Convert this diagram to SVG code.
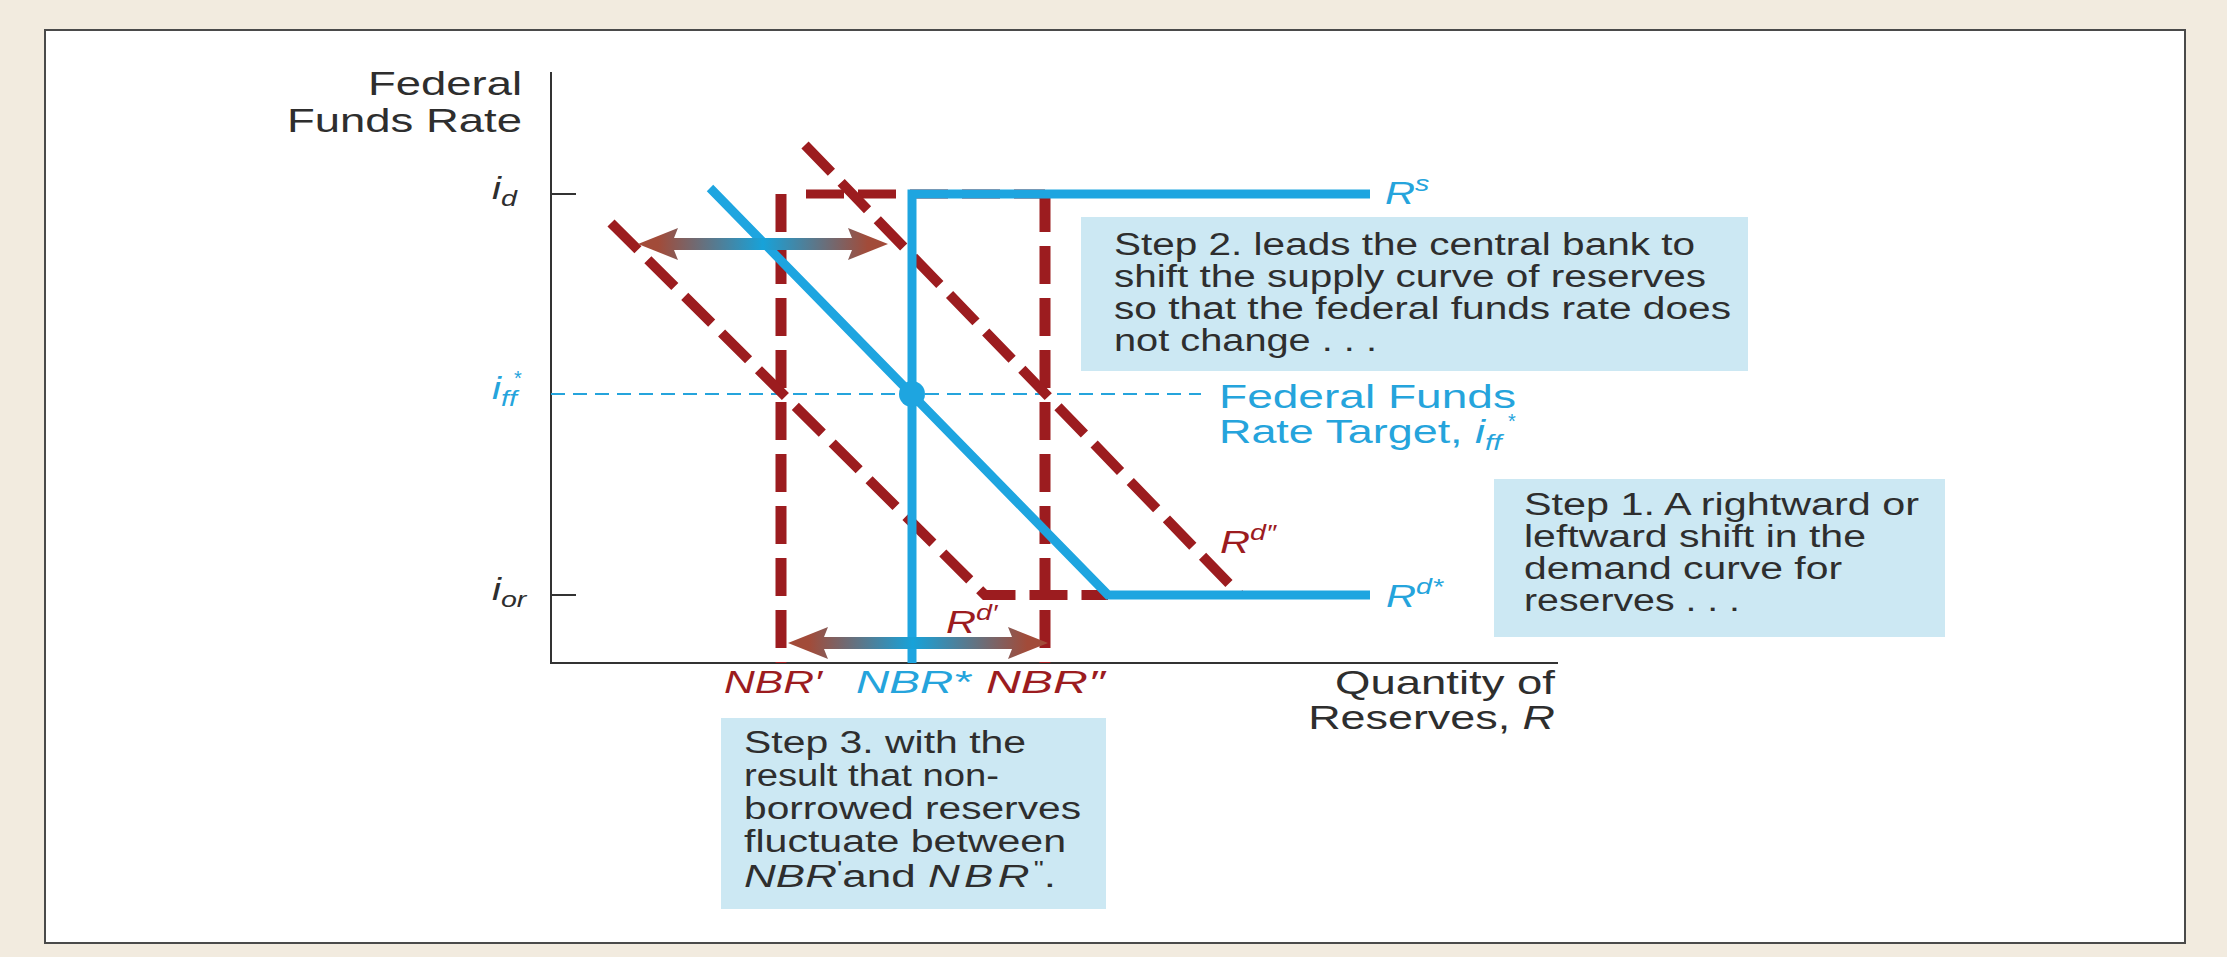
<svg xmlns="http://www.w3.org/2000/svg" width="2227" height="957" viewBox="0 0 2227 957">
<style>
.t{font-family:"Liberation Sans",Arial,sans-serif;fill:#2e2e2e}
.bt{font-family:"Liberation Sans",Arial,sans-serif;fill:#2e2e2e;font-size:31px}
.it{font-style:italic}
.red{fill:#9c1c1f}
.blu{fill:#25a4dc}
.rd{stroke:#9c1c1f;fill:none;stroke-dasharray:38 14}
.bl{stroke:#1ea5e0;fill:none}
.box{fill:#cce8f3}
.ax{stroke:#333;stroke-width:2;fill:none}
</style>
<defs>
<linearGradient id="g1" gradientUnits="userSpaceOnUse" x1="638" y1="0" x2="888" y2="0">
<stop offset="0.08" stop-color="#a24b39"/><stop offset="0.5" stop-color="#17a2d9"/><stop offset="0.92" stop-color="#a24b39"/>
</linearGradient>
<linearGradient id="g2" gradientUnits="userSpaceOnUse" x1="788" y1="0" x2="1048" y2="0">
<stop offset="0.08" stop-color="#a24b39"/><stop offset="0.48" stop-color="#17a2d9"/><stop offset="0.92" stop-color="#a24b39"/>
</linearGradient>
</defs>
<rect x="0" y="0" width="2227" height="957" fill="#f2ebdf"/>
<rect x="45" y="30" width="2140" height="913" fill="#ffffff" stroke="#4a4a4a" stroke-width="2"/>

<g id="axes">
<path class="ax" d="M551,72 V663 H1558"/>
<path class="ax" d="M551,194 H576 M551,595 H576"/>
<line x1="551" y1="394" x2="1201" y2="394" stroke="#25a4dc" stroke-width="2" stroke-dasharray="14 8"/>
<text class="t" font-size="33" text-anchor="end" x="522" y="95" textLength="154" lengthAdjust="spacingAndGlyphs">Federal</text>
<text class="t" font-size="33" text-anchor="end" x="522" y="132" textLength="235" lengthAdjust="spacingAndGlyphs">Funds Rate</text>
<text class="t" font-size="33" text-anchor="end" x="1555" y="694" textLength="220" lengthAdjust="spacingAndGlyphs">Quantity of</text>
<text class="t" font-size="33" text-anchor="end" transform="translate(1555,729) scale(1.36,1)">Reserves, <tspan class="it">R</tspan></text>
<text class="t it" font-size="31" transform="translate(492,199) scale(1.3,1)">i<tspan font-size="22" dy="7">d</tspan></text>
<text class="t it blu" font-size="31" transform="translate(492,399) scale(1.3,1)">i<tspan font-size="22" dy="7">ff</tspan></text>
<text class="t blu" font-size="20" x="514" y="385">*</text>
<text class="t it" font-size="31" transform="translate(492,600) scale(1.3,1)">i<tspan font-size="22" dy="7">or</tspan></text>
</g>

<g id="supply-shifted">
<path class="rd" stroke-width="11" d="M781,194 V663"/>
<path class="rd" stroke-width="11" d="M1045,194 V663"/>
<path class="rd" stroke-width="9" d="M806,194 H1045"/>
</g>
<g id="demand-shifted">
<path class="rd" stroke-width="10" d="M611,223 L985,595 H1108"/>
<path class="rd" stroke-width="10" d="M805,145 L1240,595"/>
</g>
<g id="supply">
<path class="bl" stroke-width="9" d="M912,663 V194 H1370"/>
</g>
<g id="demand">
<path class="bl" stroke-width="9" d="M710,188 L1108,595 H1370"/>
<circle cx="912" cy="394" r="13" fill="#1ea5e0"/>
</g>

<g id="connectors">
<polygon fill="url(#g1)" points="638,244 678,228 674,238 852,238 848,228 888,244 848,260 852,250 674,250 678,260"/>
<polygon fill="url(#g2)" points="788,643 828,627 824,637 1012,637 1008,627 1048,643 1008,659 1012,649 824,649 828,659"/>
</g>

<g id="curve-labels">
<text class="t it blu" font-size="32" transform="translate(1385,204) scale(1.3,1)">R<tspan font-size="22" dy="-13">s</tspan></text>
<text class="t it blu" font-size="32" transform="translate(1386,607) scale(1.3,1)">R<tspan font-size="22" dy="-13">d*</tspan></text>
<text class="t it red" font-size="32" transform="translate(1220,553) scale(1.3,1)">R<tspan font-size="22" dy="-13">d″</tspan></text>
<text class="t it red" font-size="32" transform="translate(946,633) scale(1.3,1)">R<tspan font-size="22" dy="-13">d′</tspan></text>
<text class="t it red" font-size="31" x="724" y="693" textLength="98" lengthAdjust="spacingAndGlyphs">NBR′</text>
<text class="t it blu" font-size="31" x="856" y="693" textLength="115" lengthAdjust="spacingAndGlyphs">NBR*</text>
<text class="t it red" font-size="31" x="986" y="693" textLength="119" lengthAdjust="spacingAndGlyphs">NBR″</text>
<text class="t blu" font-size="33" x="1219" y="408" textLength="297" lengthAdjust="spacingAndGlyphs">Federal Funds</text>
<text class="t blu" font-size="33" transform="translate(1219,443) scale(1.36,1)">Rate Target, <tspan class="it">i</tspan><tspan class="it" font-size="22" dy="7">ff</tspan></text>
<text class="t blu" font-size="20" x="1508" y="428">*</text>
</g>

<g id="step2">
<rect class="box" x="1081" y="217" width="667" height="154"/>
<text class="bt" x="1114" y="255" textLength="581" lengthAdjust="spacingAndGlyphs">Step 2. leads the central bank to</text>
<text class="bt" x="1114" y="287" textLength="592" lengthAdjust="spacingAndGlyphs">shift the supply curve of reserves</text>
<text class="bt" x="1114" y="319" textLength="617" lengthAdjust="spacingAndGlyphs">so that the federal funds rate does</text>
<text class="bt" x="1114" y="351" textLength="263" lengthAdjust="spacingAndGlyphs">not change . . .</text>
</g>

<g id="step1">
<rect class="box" x="1494" y="479" width="451" height="158"/>
<text class="bt" x="1524" y="515" textLength="395" lengthAdjust="spacingAndGlyphs">Step 1. A rightward or</text>
<text class="bt" x="1524" y="547" textLength="342" lengthAdjust="spacingAndGlyphs">leftward shift in the</text>
<text class="bt" x="1524" y="579" textLength="318" lengthAdjust="spacingAndGlyphs">demand curve for</text>
<text class="bt" x="1524" y="611" textLength="216" lengthAdjust="spacingAndGlyphs">reserves . . .</text>
</g>

<g id="step3">
<rect class="box" x="721" y="718" width="385" height="191"/>
<text class="bt" x="744" y="753" textLength="282" lengthAdjust="spacingAndGlyphs">Step 3. with the</text>
<text class="bt" x="744" y="786" textLength="255" lengthAdjust="spacingAndGlyphs">result that non-</text>
<text class="bt" x="744" y="819" textLength="337" lengthAdjust="spacingAndGlyphs">borrowed reserves</text>
<text class="bt" x="744" y="852" textLength="322" lengthAdjust="spacingAndGlyphs">fluctuate between</text>
<text class="bt" transform="translate(744,887) scale(1.42,1)"><tspan class="it">NBR</tspan><tspan font-size="20" dy="-12">'</tspan><tspan dy="12">and </tspan><tspan class="it" letter-spacing="3">NBR</tspan><tspan font-size="20" dy="-12">"</tspan><tspan dy="12">.</tspan></text>
</g>
</svg>
